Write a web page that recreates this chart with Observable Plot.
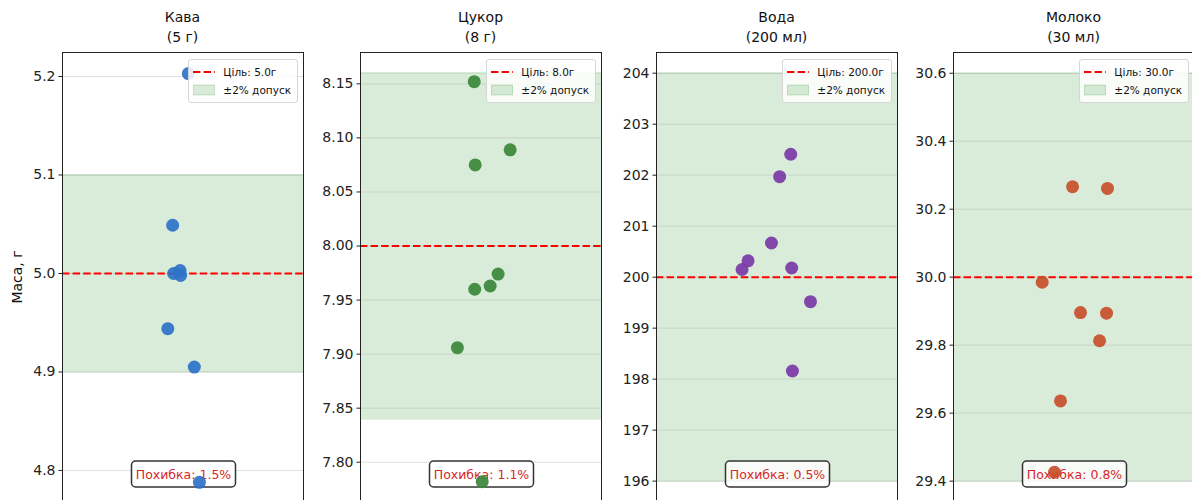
<!DOCTYPE html>
<html>
<head>
<meta charset="utf-8">
<script src="https://cdn.jsdelivr.net/npm/d3@7"></script>
<script src="https://cdn.jsdelivr.net/npm/@observablehq/plot@0.6"></script>
<style>
  html, body { margin: 0; padding: 0; background: #fff; overflow: hidden; }
  #chart { position: relative; width: 1192px; height: 500px; overflow: hidden; font-family: "DejaVu Sans", sans-serif; color: #222; }
  .panel { position: absolute; top: 0; width: 304px; height: 500px; }
  .panel svg { overflow: visible; max-width: none !important; }
  .title { position: absolute; top: 7px; width: 241px; text-align: center; font-size: 14px; line-height: 20px; color: #111; }
  .ylabel { position: absolute; left: 17px; top: 277px; transform: translate(-50%, -50%) rotate(-90deg); font-size: 14px; white-space: nowrap; color: #111; }
  .legend { position: absolute; top: 59px; background: rgba(255,255,255,0.85); border: 1px solid #d6d6d6; border-radius: 3px; font-size: 10.5px; padding: 3px 6px 3px 4px; color: #111; }
  .legend .row { display: flex; align-items: center; height: 18px; white-space: nowrap; }
  .legend svg { width: 22px; height: 12px; margin-right: 8px; }
</style>
</head>
<body>
<div id="chart"></div>
<script>
// Ingredients weighed for one cup of coffee
const names = ["Кава", "Цукор", "Вода", "Молоко"];
const portions = ["(5 г)", "(8 г)", "(200 мл)", "(30 мл)"];
const targets = [5.0, 8.0, 200.0, 30.0];
const tolerance = 0.02;
const errors = ["1.5%", "1.1%", "0.5%", "0.8%"];
const colors = ["#2c72c8", "#3b873b", "#7b38a6", "#c74e2a"];

// Measured masses (8 weighings per ingredient)
const coffee = [5.203, 5.049, 5.000, 5.003, 4.998, 4.944, 4.905, 4.788];
const sugar  = [8.152, 8.089, 8.075, 7.974, 7.963, 7.960, 7.906, 7.782];
const water  = [202.41, 201.97, 200.67, 200.32, 200.15, 200.18, 199.52, 198.16];
const milk   = [30.266, 30.261, 29.985, 29.896, 29.894, 29.813, 29.636, 29.426];

// Horizontal jitter of each weighing inside its strip
const coffeeJitter = [0.022, -0.043, -0.039, -0.012, -0.010, -0.063, 0.047, 0.068];
const sugarJitter  = [-0.028, 0.121, -0.024, 0.071, 0.038, -0.026, -0.098, 0.005];
const waterJitter  = [0.057, 0.011, -0.023, -0.120, -0.145, 0.061, 0.139, 0.064];
const milkJitter   = [-0.006, 0.139, -0.132, 0.027, 0.135, 0.106, -0.056, -0.081];

// Axis limits and ticks per panel
const yDomains = [[4.7695, 5.2244], [7.7646, 8.179], [195.62, 204.406], [29.343, 30.661]];
const yTicks = [
  [4.8, 4.9, 5.0, 5.1, 5.2],
  [7.80, 7.85, 7.90, 7.95, 8.00, 8.05, 8.10, 8.15],
  [196, 197, 198, 199, 200, 201, 202, 203, 204],
  [29.4, 29.6, 29.8, 30.0, 30.2, 30.4, 30.6]
];
const tickFormats = [".1f", ".2f", "d", ".1f"];

const series = [coffee, sugar, water, milk];
const jitters = [coffeeJitter, sugarJitter, waterJitter, milkJitter];

// Layout
const frameLefts = [62, 360, 656, 953];
const frameWidth = 241;
const marginLeft = 62;
const xDomain = [-0.5, 0.5];

const chart = document.getElementById("chart");

function errorBox(text) {
  // Rounded label box near the bottom of the frame
  return (index, scales, values, dims) => {
    const g = d3.create("svg:g");
    const cx = dims.marginLeft + (dims.width - dims.marginLeft - dims.marginRight) / 2;
    const cy = dims.height - 26;
    g.append("rect")
      .attr("x", cx - 51).attr("y", cy - 13)
      .attr("width", 104).attr("height", 26)
      .attr("rx", 4)
      .attr("fill", "white").attr("fill-opacity", 0.8)
      .attr("stroke", "#333").attr("stroke-width", 1.5);
    g.append("text")
      .attr("x", cx + 1).attr("y", cy)
      .attr("text-anchor", "middle").attr("dy", "0.36em")
      .attr("fill", "#d62728")
      .attr("font-size", "12.5px")
      .text(text);
    return g.node();
  };
}

names.forEach((name, i) => {
  const t = targets[i];
  const lo = t * (1 - tolerance), hi = t * (1 + tolerance);
  const data = series[i].map((v, k) => ({x: jitters[i][k], y: v}));
  const band = [{x1: xDomain[0], x2: xDomain[1], y1: lo, y2: hi}];

  const svg = Plot.plot({
    width: marginLeft + frameWidth + 1,
    height: 500,
    marginLeft, marginRight: 1, marginTop: 52, marginBottom: 0,
    style: {fontFamily: "DejaVu Sans", fontSize: "14px", color: "#222", background: "transparent"},
    x: {domain: xDomain, axis: null},
    y: {domain: yDomains[i], ticks: yTicks[i], tickFormat: d3.format(tickFormats[i]), tickSize: 3.5, tickPadding: 3.5, label: null},
    marks: [
      Plot.rect(band, {x1: "x1", x2: "x2", y1: "y1", y2: "y2", fill: "green", fillOpacity: 0.15}),
      Plot.ruleY([lo, hi], {stroke: "green", strokeOpacity: 0.2, strokeWidth: 1}),
      Plot.ruleY(yTicks[i], {stroke: "#b0b0b0", strokeOpacity: 0.4}),
      Plot.ruleY([t], {stroke: "red", strokeWidth: 2, strokeDasharray: "7.4,3.2"}),
      errorBox("Похибка: " + errors[i]),
      Plot.dot(data, {x: "x", y: "y", r: 6.5, fill: colors[i], fillOpacity: 0.92, stroke: "none"}),
      Plot.ruleX(xDomain, {stroke: "#222"}),
      Plot.ruleY([yDomains[i][1]], {stroke: "#222"})
    ]
  });
  svg.style.maxWidth = "none";

  const wrap = document.createElement("div");
  wrap.className = "panel";
  wrap.style.left = (frameLefts[i] - marginLeft) + "px";
  wrap.appendChild(svg);
  chart.appendChild(wrap);

  const title = document.createElement("div");
  title.className = "title";
  title.style.left = frameLefts[i] + "px";
  title.innerHTML = name + "<br>" + portions[i];
  chart.appendChild(title);

  const legend = document.createElement("div");
  legend.className = "legend";
  legend.style.right = (1192 - (frameLefts[i] + frameWidth - 5)) + "px";
  legend.innerHTML =
    `<div class="row"><svg><line x1="0" x2="22" y1="6" y2="6" stroke="red" stroke-width="2" stroke-dasharray="7.4,3.2"/></svg>Ціль: ${t.toFixed(1)}г</div>` +
    `<div class="row"><svg><rect x="0.5" y="1" width="21" height="10" fill="green" fill-opacity="0.15" stroke="green" stroke-opacity="0.2"/></svg>±2% допуск</div>`;
  chart.appendChild(legend);
});

const ylabel = document.createElement("div");
ylabel.className = "ylabel";
ylabel.textContent = "Маса, г";
chart.appendChild(ylabel);
</script>
</body>
</html>
